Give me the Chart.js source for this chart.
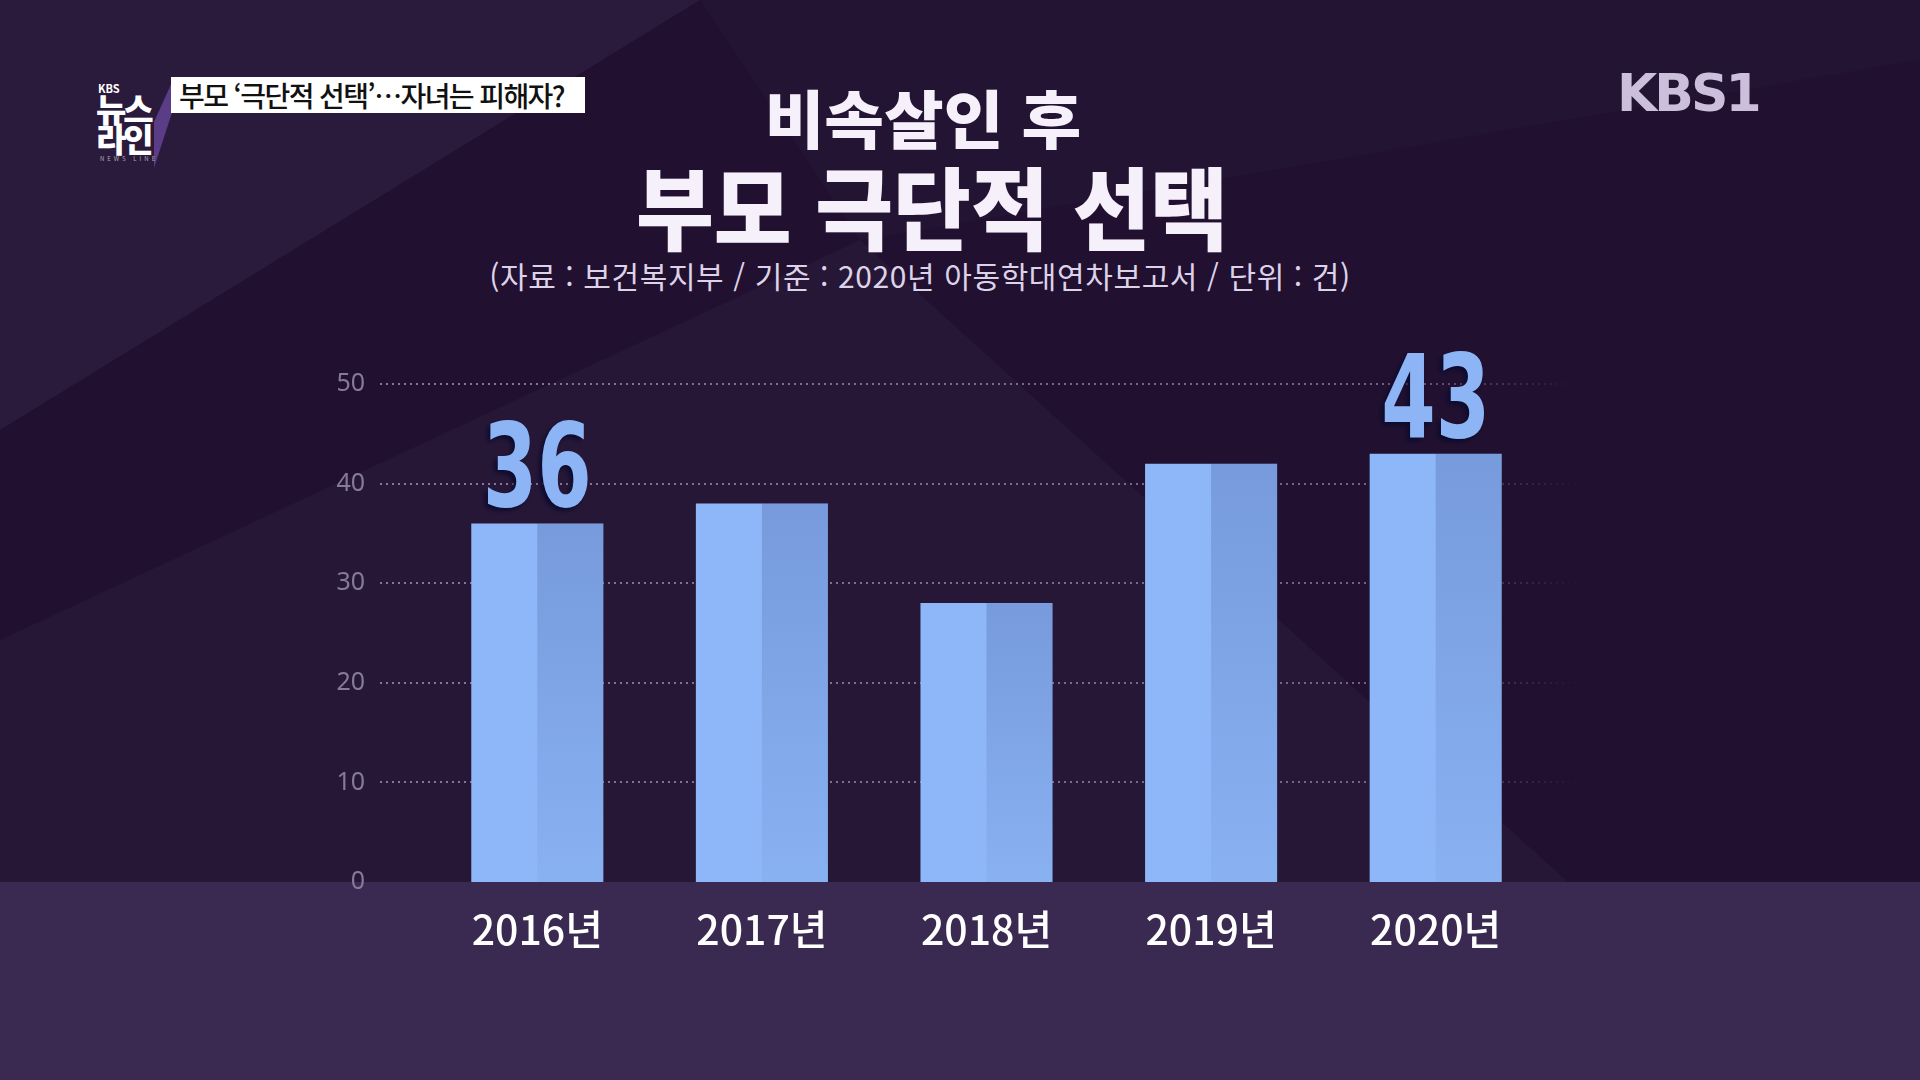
<!DOCTYPE html>
<html lang="ko">
<head>
<meta charset="utf-8">
<script src="https://cdn.jsdelivr.net/npm/chart.js@4.4.1/dist/chart.umd.min.js"></script>
<style>
    html, body { margin: 0; padding: 0; }
    body {
        width: 1920px; height: 1080px; overflow: hidden; position: relative;
        background: #211030;
        font-family: "Noto Sans CJK KR", "Noto Sans", sans-serif;
    }
    .shape { position: absolute; left: 0; top: 0; width: 1920px; height: 1080px; }
    .s1 { background: #2a1a3c; clip-path: polygon(0 0, 700px 0, 0 430px); }
    .s2 { background: #271737; clip-path: polygon(860px 240px, 1568px 882px, 0 882px, 0 640px); }
    .s3 { background: #241434; clip-path: polygon(700px 0, 1920px 0, 1920px 60px, 860px 240px); }
    .band { position: absolute; left: 0; top: 882px; width: 1920px; height: 198px; background: #3a2a52; }
    #chart { position: absolute; left: 0; top: 0; }
    .title1, .title2, .source { position: absolute; left: 0; text-align: center; color: #f6f0fa; white-space: nowrap; }
    .title1 { top: 70px; width: 1846px; font-size: 63px; font-weight: 900; transform: scaleX(1.03); }
    .title2 { top: 139px; width: 1864px; font-size: 90px; font-weight: 900; transform: scaleX(0.94); }
    .source { top: 253px; width: 1840px; font-size: 30px; color: #ddd3e8; letter-spacing: 0.6px; }
    .caption {
        position: absolute; left: 171px; top: 77px; width: 414px; height: 36px;
        background: #ffffff; color: #111; font-size: 28px; font-weight: 500;
        line-height: 36px; padding-left: 8px; box-sizing: border-box; letter-spacing: -1.6px;
        white-space: nowrap; overflow: hidden;
    }
    .logo { position: absolute; left: 84px; top: 72px; width: 96px; height: 92px; }
    .logo .wing { position: absolute; left: 70px; top: 10px; width: 100px; height: 90px;
        background: #5a3d86; clip-path: polygon(18px 0, 28px 0, 0 86px, 0 40px); }
    .logo .k { position: absolute; left: 14px; top: 8px; color: #fff; font-size: 11px; font-weight: 700; }
    .logo .big { position: absolute; left: 12px; color: #fff; font-size: 33px; font-weight: 900; line-height: 33px; letter-spacing: -3px; }
    .logo .nl { position: absolute; left: 16px; top: 82px; color: #aaa; font-size: 6px; letter-spacing: 3px; }
    .kbs1 { position: absolute; left: 1617px; top: 63px; color: #cbbfdb; font-family: "DejaVu Sans", sans-serif;
        font-size: 52px; font-weight: 700; letter-spacing: -3px; transform: scaleX(1.0); transform-origin: left top; }
</style>
</head>
<body>
<div class="shape s1"></div>
<div class="shape s3"></div>
<div class="shape s2"></div>
<div class="band"></div>

<div class="logo">
    <div class="wing"></div>
    <div class="k">KBS</div>
    <div class="big" style="top:20px">뉴스</div>
    <div class="big" style="top:50px">라인</div>
    <div class="nl">NEWS LINE</div>
</div>
<div class="caption">부모 ‘극단적 선택’…자녀는 피해자?</div>
<div class="kbs1">KBS1</div>

<div class="title1">비속살인 후</div>
<div class="title2">부모 극단적 선택</div>
<div class="source">(자료 : 보건복지부 / 기준 : 2020년 아동학대연차보고서 / 단위 : 건)</div>

<canvas id="chart" width="1920" height="1080"></canvas>

<script>
const years = ['2016년', '2017년', '2018년', '2019년', '2020년']
const cases = [36, 38, 28, 42, 43]
const shownLabels = ['36', '', '', '', '43']
const yTicks = [0, 10, 20, 30, 40, 50]

const barColor = '#8db7f8'
const labelColor = '#8db5f5'
const tickColor = '#86799a'

// dotted grid drawn wider than the plot area, fading out at the right end
const dottedGrid = {
    id: 'dottedGrid',
    beforeDatasetsDraw(chart) {
        const { ctx, scales: { y }, chartArea } = chart
        const x0 = chartArea.left - 45
        const x1 = chartArea.right + 32
        const grad = ctx.createLinearGradient(x0, 0, x1, 0)
        grad.addColorStop(0, 'rgba(170,150,195,0.75)')
        grad.addColorStop(0.85, 'rgba(170,150,195,0.6)')
        grad.addColorStop(1, 'rgba(170,150,195,0)')
        ctx.save()
        ctx.strokeStyle = grad
        ctx.lineWidth = 2
        ctx.setLineDash([2, 4])
        yTicks.forEach(v => {
            if (v === 0) return
            const py = Math.round(y.getPixelForValue(v))
            ctx.beginPath()
            ctx.moveTo(x0, py)
            ctx.lineTo(x1, py)
            ctx.stroke()
        })
        ctx.restore()
    }
}

// darker right half of every bar + the big value numbers
const barDecor = {
    id: 'barDecor',
    afterDatasetsDraw(chart) {
        const { ctx } = chart
        const meta = chart.getDatasetMeta(0)
        ctx.save()
        meta.data.forEach((bar, i) => {
            const { x, y, base } = bar.getProps(['x', 'y', 'base'], true)
            const w = bar.width
            const g = ctx.createLinearGradient(0, y, 0, base)
            g.addColorStop(0, 'rgba(30,40,110,0.2)')
            g.addColorStop(1, 'rgba(30,40,110,0.04)')
            ctx.fillStyle = g
            ctx.fillRect(x, y, w / 2, base - y)

            const txt = shownLabels[i]
            if (!txt) return
            ctx.save()
            ctx.translate(x, y - 17)
            ctx.scale(0.75, 1)
            ctx.font = 'bold 116px "DejaVu Sans Condensed", "DejaVu Sans", sans-serif'
            ctx.textAlign = 'center'
            ctx.textBaseline = 'alphabetic'
            ctx.shadowColor = 'rgba(8,10,45,0.95)'
            ctx.shadowBlur = 5
            ctx.shadowOffsetX = -3
            ctx.shadowOffsetY = 3
            ctx.fillStyle = labelColor
            ctx.fillText(txt, 0, 0)
            ctx.restore()
        })
        ctx.restore()
    }
}

new Chart(document.getElementById('chart'), {
    type: 'bar',
    data: {
        labels: years,
        datasets: [{
            data: cases,
            backgroundColor: barColor,
            borderWidth: 0,
            barPercentage: 0.588,
            categoryPercentage: 1
        }]
    },
    options: {
        responsive: false,
        animation: false,
        events: [],
        layout: { padding: { left: 325, right: 372, top: 384, bottom: 0 } },
        plugins: {
            legend: { display: false },
            tooltip: { enabled: false }
        },
        scales: {
            x: {
                grid: { display: false, drawTicks: false },
                border: { display: false },
                afterFit(scale) { scale.height = 198 },
                ticks: {
                    color: '#ffffff',
                    padding: 23,
                    font: { family: '"Noto Sans CJK KR", sans-serif', size: 41, weight: '500' }
                }
            },
            y: {
                min: 0,
                max: 50,
                afterFit(scale) { scale.width = 100 },
                afterBuildTicks(scale) { scale.ticks = yTicks.map(v => ({ value: v })) },
                grid: { display: false, drawTicks: false },
                border: { display: false },
                ticks: {
                    color: tickColor,
                    padding: 60,
                    font: { family: '"Noto Sans", sans-serif', size: 25 }
                }
            }
        }
    },
    plugins: [dottedGrid, barDecor]
})
</script>
</body>
</html>
